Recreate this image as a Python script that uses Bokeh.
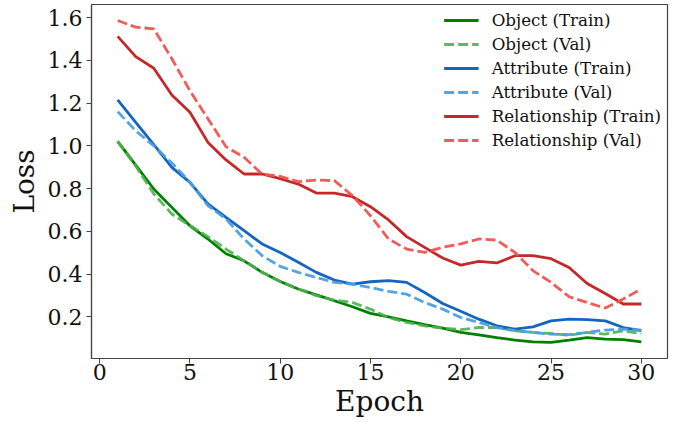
from bokeh.plotting import figure
from bokeh.models import FixedTicker, Range1d, PrintfTickFormatter
from bokeh.embed import file_html
from bokeh.resources import INLINE

epochs = list(range(1, 31))

object_train = [1.021, 0.91, 0.798, 0.712, 0.626, 0.564, 0.495, 0.462, 0.408, 0.365,
                0.330, 0.303, 0.275, 0.247, 0.216, 0.200, 0.181, 0.163, 0.147, 0.127,
                0.116, 0.103, 0.091, 0.083, 0.080, 0.091, 0.103, 0.096, 0.093, 0.083]
object_val = [1.021, 0.905, 0.775, 0.681, 0.626, 0.575, 0.517, 0.462, 0.408, 0.365,
              0.330, 0.299, 0.278, 0.267, 0.236, 0.197, 0.174, 0.158, 0.147, 0.140,
              0.150, 0.150, 0.135, 0.127, 0.122, 0.114, 0.127, 0.119, 0.135, 0.122]
attribute_train = [1.215, 1.11, 1.005, 0.899, 0.829, 0.728, 0.665, 0.603, 0.541, 0.501,
                   0.455, 0.408, 0.372, 0.353, 0.364, 0.369, 0.361, 0.314, 0.262, 0.226,
                   0.189, 0.158, 0.142, 0.153, 0.181, 0.189, 0.187, 0.181, 0.150, 0.135]
attribute_val = [1.160, 1.07, 1.0, 0.92, 0.83, 0.72, 0.658, 0.564, 0.486, 0.436,
                 0.408, 0.384, 0.361, 0.353, 0.337, 0.319, 0.306, 0.267, 0.236, 0.197,
                 0.174, 0.150, 0.135, 0.127, 0.119, 0.117, 0.127, 0.138, 0.142, 0.138]
relationship_train = [1.512, 1.417, 1.363, 1.238, 1.157, 1.016, 0.934, 0.868, 0.868, 0.846,
                      0.821, 0.779, 0.779, 0.762, 0.715, 0.653, 0.575, 0.525, 0.475, 0.442,
                      0.459, 0.452, 0.486, 0.486, 0.472, 0.431, 0.356, 0.309, 0.260, 0.260]
relationship_val = [1.586, 1.555, 1.547, 1.407, 1.258, 1.126, 0.996, 0.946, 0.868, 0.857,
                    0.832, 0.840, 0.837, 0.767, 0.673, 0.564, 0.517, 0.501, 0.525, 0.541,
                    0.564, 0.559, 0.501, 0.416, 0.361, 0.294, 0.267, 0.241, 0.283, 0.330]

series = [
    ("Object (Train)", object_train, "#008000", "solid", 1.0),
    ("Object (Val)", object_val, "#4caf50", "10 4", 0.9),
    ("Attribute (Train)", attribute_train, "#1565c0", "solid", 1.0),
    ("Attribute (Val)", attribute_val, "#4a9fe3", "10 4", 0.95),
    ("Relationship (Train)", relationship_train, "#c62828", "solid", 1.0),
    ("Relationship (Val)", relationship_val, "#ef5350", "10 4", 0.95),
]

x_ticks = [0, 5, 10, 15, 20, 25, 30]
y_ticks = [0.2, 0.4, 0.6, 0.8, 1.0, 1.2, 1.4, 1.6]

FONT = "DejaVu Serif"

p = figure(width=686, height=422, output_backend="svg", toolbar_location=None,
           x_range=Range1d(-0.45, 31.45), y_range=Range1d(0.005, 1.661),
           min_border_left=91, min_border_right=19, min_border_top=4, min_border_bottom=64)

for name, vals, color, dash, alpha in series:
    p.line(epochs, vals, line_color=color, line_width=2.8, line_dash=dash,
           line_alpha=alpha, legend_label=name)

p.xgrid.visible = False
p.ygrid.visible = False
p.outline_line_color = "#444444"
p.outline_line_width = 1.2

p.xaxis.ticker = FixedTicker(ticks=x_ticks)
p.yaxis.ticker = FixedTicker(ticks=y_ticks)
p.yaxis.formatter = PrintfTickFormatter(format="%.1f")

for ax in (p.xaxis[0], p.yaxis[0]):
    ax.axis_line_color = "#444444"
    ax.axis_line_width = 1.2
    ax.major_tick_line_color = "#444444"
    ax.major_tick_in = 0
    ax.major_tick_out = 5
    ax.minor_tick_line_color = None
    ax.major_label_text_font = FONT
    ax.major_label_text_font_size = "22px"
    ax.major_label_text_color = "#111111"
    ax.axis_label_text_font = FONT
    ax.axis_label_text_font_size = "28px"
    ax.axis_label_text_font_style = "normal"
    ax.axis_label_text_color = "#111111"

p.xaxis.axis_label = "Epoch"
p.yaxis.axis_label = "Loss"
p.xaxis.major_label_standoff = 0
p.xaxis.axis_label_standoff = 2
p.yaxis.major_label_standoff = 4
p.yaxis.axis_label_standoff = 4

lg = p.legend[0]
lg.location = "top_right"
lg.label_text_font = FONT
lg.label_text_font_size = "16.7px"
lg.label_text_color = "#111111"
lg.glyph_width = 35
lg.glyph_height = 20
lg.label_height = 20
lg.label_standoff = 13
lg.spacing = 4
lg.padding = 4
lg.margin = 2
lg.border_line_alpha = 0
lg.background_fill_alpha = 0

open("out.html", "w").write(file_html(p, INLINE))
